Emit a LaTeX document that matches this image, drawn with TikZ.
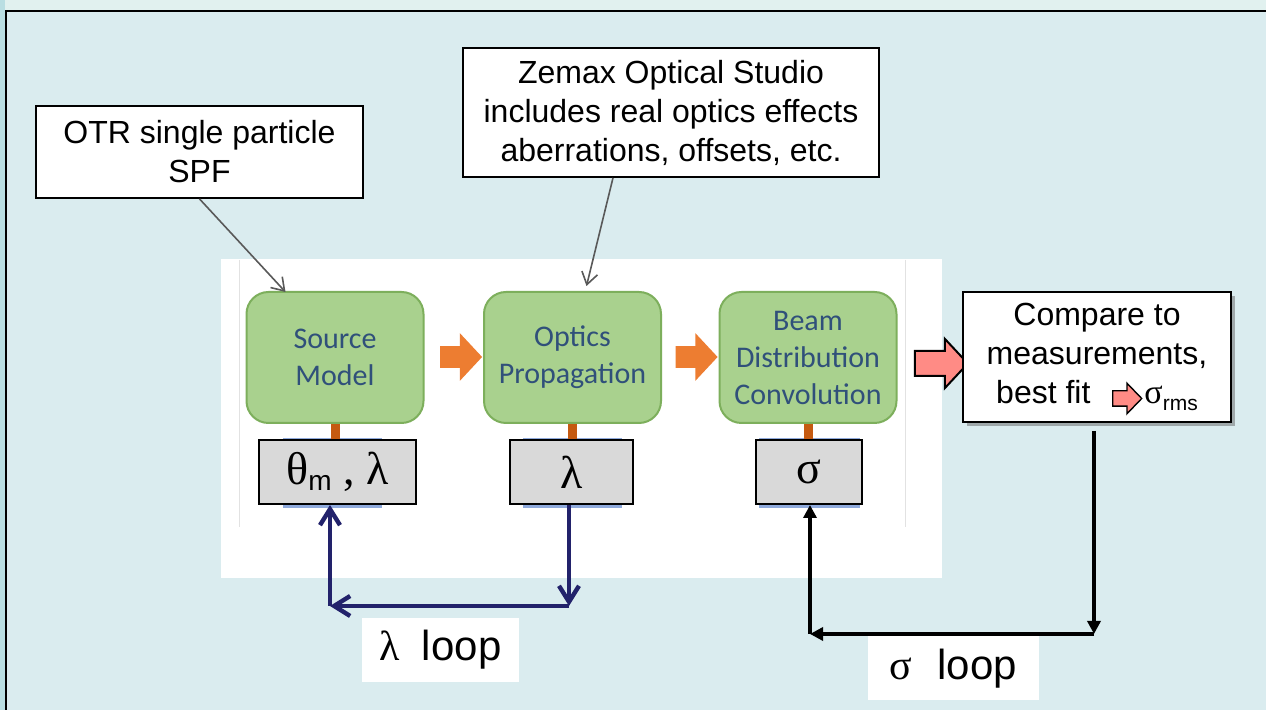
\documentclass[tikz,border=0pt]{standalone}
\usepackage{fontspec}
\setmainfont{Liberation Sans}
\setsansfont{Liberation Sans}
\newfontfamily\greekfont{Liberation Serif}
\newfontfamily\stagefont{Carlito}
\usetikzlibrary{arrows.meta,shapes.arrows,shadows}

\definecolor{panelblue}{HTML}{DAECEF}
\definecolor{topstrip}{HTML}{E1F1EF}
\definecolor{leftstrip}{HTML}{B9DEE2}
\definecolor{stagefill}{HTML}{A9D18E}
\definecolor{stageedge}{HTML}{7DAF5C}
\definecolor{stagetext}{HTML}{30507A}
\definecolor{stemorange}{HTML}{C55A11}
\definecolor{steporange}{HTML}{ED7D31}
\definecolor{fitpink}{HTML}{FF8B85}
\definecolor{paramgrey}{HTML}{D9D9D9}
\definecolor{parambar}{HTML}{8FAADC}
\definecolor{lambdanavy}{HTML}{22226B}
\definecolor{pointergrey}{HTML}{595959}
\definecolor{seamgrey}{HTML}{E2E2E2}

\begin{document}
\begin{tikzpicture}[x=0.5pt,y=-0.5pt,
        callout/.style={draw,fill=white,line width=0.9pt,inner sep=0pt,align=center,
            font=\fontsize{16}{19.5}\selectfont},
        stage/.style={draw=stageedge,fill=stagefill,line width=1pt,rounded corners=11pt,
            minimum width=88.5pt,minimum height=65.5pt,inner sep=0pt,align=center,
            text=stagetext,font=\stagefont\fontsize{15}{18.5}\selectfont},
        param/.style={draw,fill=paramgrey,line width=1pt,minimum height=32pt,inner sep=0pt,
            font=\greekfont\fontsize{23}{26}\selectfont},
        looplabel/.style={fill=white,inner sep=0pt,minimum height=32pt,
            font=\fontsize{21}{25}\selectfont},
        stepfill/.style={single arrow,fill=steporange,inner xsep=0pt,inner ysep=5.25pt,
            single arrow head extend=6.5pt,single arrow tip angle=94,minimum height=21pt},
        fitarrow/.style={single arrow,fill=fitpink,draw=black,line width=1pt,inner xsep=0pt,
            inner ysep=5.75pt,single arrow head extend=6pt,single arrow tip angle=94,
            minimum height=26.5pt},
        stem/.style={stemorange,line width=4.5pt},
        pointer/.style={pointergrey,line width=0.8pt,-{Straight Barb[length=6pt,width=8pt]}},
        lamloop/.style={lambdanavy,line width=2.2pt,-{Straight Barb[length=8pt,width=10pt]}},
        sigloop/.style={black,line width=2pt,-{Triangle[length=6.5pt,width=6.5pt]}}]

                    % background and frame
                    \fill[panelblue] (0,0) rectangle (1266,710);
                    \fill[topstrip] (0,0) rectangle (1266,10);
                    \fill[leftstrip] (0,0) rectangle (5,710);
                    \useasboundingbox (0,0) rectangle (1266,710);
                    \draw[line width=1.3pt] (6,710) -- (6,11) -- (1266,11);

                    % pasted chain
                    \fill[white] (221,259) rectangle (942,578);
                    \draw[seamgrey,line width=0.5pt] (239,260) -- (239,527);
                    \draw[seamgrey,line width=0.5pt] (905,260) -- (905,527);

                    \node[callout,minimum width=163.5pt,minimum height=46pt] at (199.5,152) (otr) {OTR single particle\\SPF};
                    \node[callout,minimum width=208pt,minimum height=64.5pt] at (671,112.5) (zemax) {Zemax Optical Studio\\includes real optics effects\\aberrations, offsets, etc.};

                    \node[stage] at (335,357.5) (source) {Source\\Model};
                    \node[stage] at (572.5,357.5) (optics) {Optics\\Propagation};
                    \node[stage] at (808,357.5) (beam) {Beam\\Distribution\\Convolution};

                    \node[stepfill] at (456,357) (srcstep) {};
                    \node[stepfill] at (691.5,357) (optstep) {};
                    \node[fitarrow] at (935.5,363.5) (fitstep) {};

                    \node[callout,minimum width=134pt,minimum height=65pt,
                        drop shadow={shadow xshift=2pt,shadow yshift=-2pt,opacity=0.5,fill=black!60}]
                        at (1097,357) (cmp) {Compare to\\measurements,\\best fit\hspace{27pt}{\greekfont\fontsize{17}{19}\selectfont σ}\raisebox{-3.5pt}{\fontsize{10.5}{12}\selectfont rms}};
                    \node[single arrow,fill=fitpink,draw=black,line width=0.7pt,inner xsep=0pt,inner ysep=3.5pt,
                        single arrow head extend=3.75pt,single arrow tip angle=92,minimum height=14.5pt]
                        at (1123.5,398.5) (fitmark) {};

                    % parameters
                    \fill[parambar] (283,438) rectangle (382,508);
                    \fill[parambar] (523,438) rectangle (622,508);
                    \fill[parambar] (759,438) rectangle (860,508);
                    \node[param,minimum width=78.5pt] at (337.5,472) (srcpar) {θ\raisebox{-3pt}{\sffamily\fontsize{14}{16}\selectfont m} , λ};
                    \node[param,minimum width=61.5pt] at (571.5,472) (optpar) {λ};
                    \node[param,minimum width=53pt] at (809,472) (beampar) {σ};

                    \draw[stem] (source.south) -- (source.south |- srcpar.north);
                    \draw[stem] (optics.south) -- (optics.south |- optpar.north);
                    \draw[stem] (beam.south) -- (beam.south |- beampar.north);

                    \draw[pointer] (otr.south) -- ([xshift=20pt,yshift=-0.5pt]source.north west);
                    \draw[pointer] ([xshift=-29pt]zemax.south) -- ([xshift=7pt,yshift=2.5pt]optics.north);

                    % lambda loop
                    \coordinate (lamright) at (569,606);
                    \coordinate (lamleft) at (330,606);
                    \draw[lamloop] (optpar.south -| lamright) -- (lamright);
                    \draw[lamloop] (lamright) -- (lamleft);
                    \draw[lamloop] (lamleft) -- (lamleft |- srcpar.south);
                    \node[looplabel,minimum width=78.5pt] at (440.5,650) (lamlabel) {{\greekfont λ}\hspace{11pt}loop};

                    % sigma loop
                    \coordinate (sigright) at (1094,634);
                    \coordinate (sigleft) at (810,634);
                    \draw[sigloop,shorten <=4pt] (cmp.south -| sigright) -- (sigright);
                    \draw[sigloop] (sigright) -- (sigleft);
                    \draw[sigloop] (sigleft) -- (sigleft |- beampar.south);
                    \node[looplabel,minimum width=85.5pt] at (953.5,668.5) (siglabel) {{\greekfont σ}\hspace{12.5pt}loop\hspace{7.5pt}};
\end{tikzpicture}
\end{document}
